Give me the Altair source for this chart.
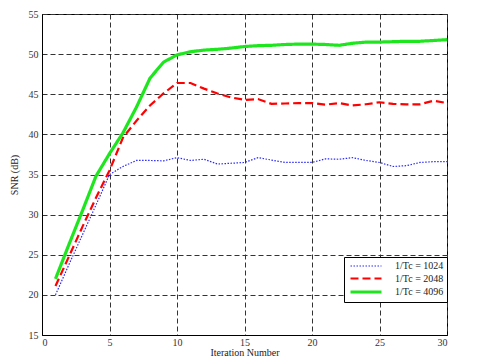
import altair as alt
import pandas as pd

iterations = list(range(1, 31))
snr_1024 = [20.0, 23.8, 27.5, 31.2, 35.0, 36.0, 36.75, 36.75, 36.7, 37.1,
            36.75, 36.9, 36.3, 36.4, 36.5, 37.1, 36.8, 36.5, 36.5, 36.5,
            36.95, 36.9, 37.1, 36.75, 36.5, 36.0, 36.1, 36.5, 36.6, 36.6]
snr_2048 = [21.1, 24.8, 28.5, 32.1, 35.5, 39.6, 41.7, 43.6, 45.1, 46.4,
            46.4, 45.7, 45.1, 44.6, 44.3, 44.4, 43.8, 43.85, 43.9, 43.9,
            43.7, 43.9, 43.6, 43.75, 44.0, 43.8, 43.75, 43.75, 44.2, 43.9]
snr_4096 = [22.0, 26.3, 30.5, 34.8, 37.6, 40.2, 43.4, 47.0, 49.0, 49.9,
            50.3, 50.5, 50.6, 50.75, 50.95, 51.05, 51.1, 51.2, 51.25, 51.25,
            51.2, 51.1, 51.35, 51.5, 51.5, 51.55, 51.6, 51.6, 51.7, 51.8]
series_names = ["1/Tc = 1024", "1/Tc = 2048", "1/Tc = 4096"]
x_ticks = [0, 5, 10, 15, 20, 25, 30]
y_ticks = [15, 20, 25, 30, 35, 40, 45, 50, 55]

rows = []
for name, vals in zip(series_names, [snr_1024, snr_2048, snr_4096]):
    for it, v in zip(iterations, vals):
        rows.append({"iter": it, "snr": v, "series": name})
df = pd.DataFrame(rows)

font = "Liberation Serif"
legend = alt.Legend(
    title=None, orient="none", legendX=302, legendY=243,
    fillColor="white", strokeColor="black", padding=3, cornerRadius=0,
    symbolType="M-3.1,0H3.1", symbolSize=100, symbolOffset=12,
    labelOffset=22, labelFont=font, labelFontSize=10,
    labelColor="#222", rowPadding=1,
)

chart = alt.Chart(df).mark_line().encode(
    x=alt.X("iter:Q", title="Iteration Number",
            scale=alt.Scale(domain=[0, 30], nice=False),
            axis=alt.Axis(values=x_ticks, format="d")),
    y=alt.Y("snr:Q", title="SNR (dB)",
            scale=alt.Scale(domain=[15, 55], nice=False, zero=False),
            axis=alt.Axis(values=y_ticks, format="d")),
    color=alt.Color("series:N", scale=alt.Scale(domain=series_names,
                    range=["#2a2aff", "#ff0000", "#1ee61e"]), legend=legend),
    strokeDash=alt.StrokeDash("series:N", scale=alt.Scale(domain=series_names,
                    range=[[1.5, 1.5], [8, 4], [1, 0]]), legend=legend),
    strokeWidth=alt.StrokeWidth("series:N", scale=alt.Scale(domain=series_names,
                    range=[1.2, 3.2, 3.5]), legend=legend),
).properties(
    width=405, height=321,
    autosize=alt.AutoSizeParams(type="none"),
    padding={"left": 42, "top": 14, "right": 33, "bottom": 24},
).configure_view(
    stroke="black", strokeWidth=1
).configure_axis(
    labelFont=font, titleFont=font, labelFontSize=10, titleFontSize=10,
    titleFontWeight="normal", labelColor="#333", titleColor="#222",
    domainColor="black", grid=True, gridColor="#333", gridDash=[5, 3],
    gridOpacity=1, gridWidth=1, ticks=False,
).configure_axisX(
    labelPadding=2, titlePadding=0
).configure_axisY(
    labelPadding=4, titlePadding=9
)

chart.save("out.html", embed_options={"renderer": "svg", "actions": False})
